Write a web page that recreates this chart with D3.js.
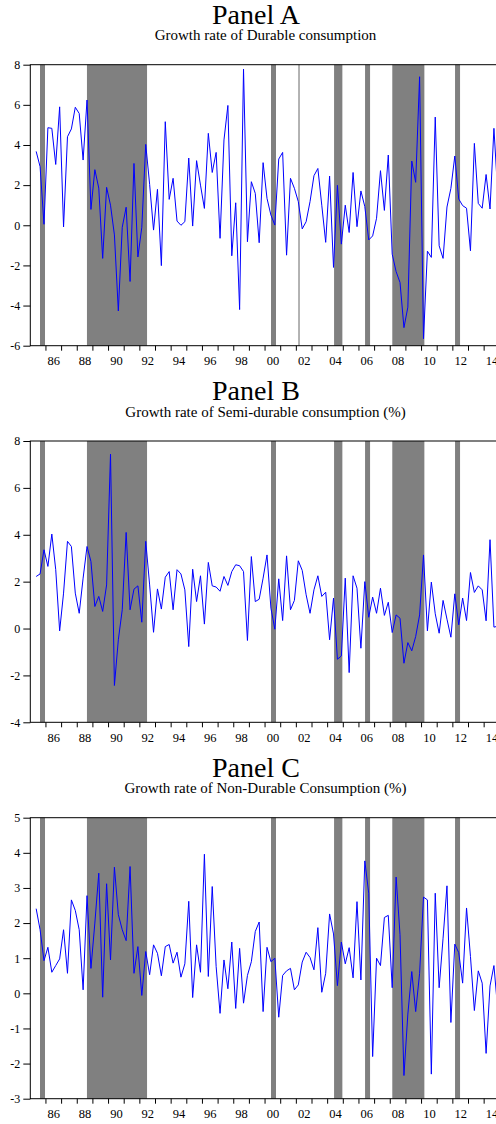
<!DOCTYPE html>
<html>
<head>
<meta charset="utf-8">
<script src="https://cdn.jsdelivr.net/npm/d3@7"></script>
<style>
  html, body { margin: 0; padding: 0; background: #fff; }
  svg { display: block; }
  text { font-family: "Liberation Serif", "DejaVu Serif", serif; fill: #000; }
</style>
</head>
<body>
<div id="chart"></div>
<script>
// Quarterly growth rates, first observation 1985Q2
const START_YEAR = 1985;
const START_QUARTER = 2;

const durable = [
  3.68, 2.92, 0.05,
  4.86, 4.83, 3.03, 5.9,
  -0.08, 4.41, 4.8, 5.88,
  5.57, 3.25, 6.24, 0.79,
  2.77, 1.85, -1.65, 1.89,
  1.0, -0.48, -4.27, -0.1,
  0.9, -2.8, 3.08, -1.58,
  -0.1, 4.03, 2.04, -0.24,
  1.79, -2.01, 5.16, 1.29,
  2.34, 0.21, 0.0, 0.18,
  3.35, -0.04, 3.22, 2.0,
  0.84, 4.58, 2.63, 3.63,
  -0.65, 4.25, 5.97, -1.52,
  1.12, -4.2, 7.78, -0.82,
  2.17, 1.59, -0.87, 3.12,
  1.34, 0.51, 0.01, 3.3,
  3.63, -1.49, 2.34, 1.84,
  1.18, -0.18, 0.18, 1.18,
  2.47, 2.83, 1.0, -0.85,
  2.45, -2.1, 1.99, -0.94,
  1.0, -0.36, 2.63, -0.07,
  1.71, 0.93, -0.73, -0.53,
  0.35, 2.72, 0.74, 3.5,
  -1.44, -2.31, -2.85, -5.1,
  -4.08, 3.2, 2.14, 7.4,
  -5.65, -1.29, -1.6, 5.39,
  -1.02, -1.65, 0.91, 1.84,
  3.45, 1.31, 0.98, 0.85,
  -1.27, 4.08, 1.09, 0.85,
  2.53, 0.81, 4.83, 1.5
];

const semiDurable = [
  2.22, 2.33, 3.36,
  2.65, 4.03, 2.51, -0.1,
  1.51, 3.72, 3.5, 1.51,
  0.65, 2.15, 3.5, 2.86,
  0.94, 1.37, 0.73, 1.86,
  7.44, -2.43, -0.48, 0.8,
  4.1, 0.8, 1.68, 1.82,
  0.27, 3.72, 1.86, -0.16,
  1.69, 0.83, 2.19, 2.43,
  0.8, 2.51, 2.33, 1.65,
  -0.77, 2.53, 1.15, 2.25,
  0.19, 2.82, 1.82, 1.77,
  1.59, 2.22, 1.84, 2.43,
  2.72, 2.68, 2.43, -0.51,
  3.07, 1.15, 1.25, 2.15,
  3.14, 0.87, -0.03, 2.12,
  0.34, 3.1, 0.8, 1.2,
  2.89, 2.48, 1.44, 0.65,
  1.65, 2.25, 1.37, 1.55,
  -0.48, 1.3, -1.31, -1.17,
  2.15, -1.88, 2.25, 1.72,
  -0.84, 2.0, 0.48, 1.34,
  0.65, 1.72, 0.56, 1.12,
  -0.17, 0.58, 0.44, -1.48,
  -0.6, -0.95, -0.34, 0.58,
  3.14, -0.1, 1.98, 0.63,
  -0.2, 1.2, 0.4, -0.37,
  1.48, 0.16, 1.3, 0.34,
  2.39, 1.54, 1.82, 1.65,
  0.33, 3.79, 0.06, 0.1
];

const nonDurable = [
  2.41, 1.81, 0.93,
  1.31, 0.6, 0.79, 0.98,
  1.81, 0.57, 2.66, 2.36,
  1.81, 0.1, 2.78, 0.71,
  2.0, 3.42, -0.11, 3.12,
  0.95, 3.59, 2.24, 1.81,
  1.5, 3.61, 0.57, 1.33,
  -0.06, 1.19, 0.53, 1.38,
  1.14, 0.5, 1.33, 1.39,
  0.86, 1.17, 0.46, 0.84,
  2.62, -0.12, 1.38, 0.6,
  3.96, 0.48, 3.04, 0.76,
  -0.57, 0.95, 0.13, 1.46,
  -0.43, 1.28, -0.28, 0.51,
  0.9, 1.76, 2.03, -0.52,
  1.31, 0.9, 1.0, -0.68,
  0.51, 0.64, 0.71, 0.1,
  0.24, 0.89, 1.17, 1.02,
  0.67, 1.87, 0.03, 0.57,
  2.26, 1.69, 0.22, 1.46,
  0.84, 1.3, 0.44, 2.61,
  0.38, 3.77, 2.85, -1.8,
  1.0, 0.79, 2.16, 2.22,
  0.16, 3.31, 1.67, -2.34,
  -0.59, 0.62, -0.52, 0.57,
  2.74, 2.66, -2.3, 2.85,
  0.16, 1.57, 3.06, -0.83,
  1.4, 1.16, 0.29, 2.43,
  1.05, -0.49, 0.64, 0.29,
  -1.71, 0.21, 0.79, -0.5
];

// shaded periods (fractional years)
const shadedPeriods = [
  [1985.62, 1985.94],
  [1988.62, 1992.46],
  [2000.38, 2000.70],
  [2004.41, 2004.94],
  [2006.39, 2006.71],
  [2008.13, 2010.18],
  [2012.14, 2012.46]
];
const panelAMarker = [2002.17]; // thin line only in panel A

const yearLabels = ["86", "88", "90", "92", "94", "96", "98", "00", "02", "04", "06", "08", "10", "12", "14"];
const labelYears = d3.range(1986, 2015, 2);
const tickYears = d3.range(1986, 2015);

const panels = [
  { title: "Panel A", subtitle: "Growth rate of Durable consumption",
    values: durable, yDomain: [-6, 8], yTicks: [-6, -4, -2, 0, 2, 4, 6, 8],
    top: 64.7, bottom: 345.7, markers: panelAMarker },
  { title: "Panel B", subtitle: "Growth rate of Semi-durable consumption (%)",
    values: semiDurable, yDomain: [-4, 8], yTicks: [-4, -2, 0, 2, 4, 6, 8],
    top: 441, bottom: 722.3, markers: [] },
  { title: "Panel C", subtitle: "Growth rate of Non-Durable Consumption (%)",
    values: nonDurable, yDomain: [-3, 5], yTicks: [-3, -2, -1, 0, 1, 2, 3, 4, 5],
    top: 817.7, bottom: 1098.7, markers: [] }
];

const W = 496, H = 1124;
const svg = d3.select("#chart").append("svg")
  .attr("width", W).attr("height", H);

const x = d3.scaleLinear().domain([1985, 2015]).range([30.3, 499.8]);

function quarterTime(i) {
  const q = START_QUARTER - 1 + i;
  return START_YEAR + Math.floor(q / 4) + ((q % 4) + 0.5) / 4;
}

panels.forEach(p => {
  const y = d3.scaleLinear().domain(p.yDomain).range([p.bottom, p.top]);
  const g = svg.append("g");

  // titles
  g.append("text")
    .attr("x", 256).attr("y", p.top - 40.7)
    .attr("text-anchor", "middle")
    .attr("font-size", "28px")
    .text(p.title);
  g.append("text")
    .attr("x", 265.5).attr("y", p.top - 24.3)
    .attr("text-anchor", "middle")
    .attr("font-size", "15px")
    .text(p.subtitle);

  // shading
  g.selectAll(".shade").data(shadedPeriods)
    .join("rect")
    .attr("class", "shade")
    .attr("x", d => x(d[0]))
    .attr("y", p.top)
    .attr("width", d => x(d[1]) - x(d[0]))
    .attr("height", p.bottom - p.top)
    .attr("fill", "#808080");

  g.selectAll(".marker").data(p.markers)
    .join("line")
    .attr("class", "marker")
    .attr("x1", d => x(d)).attr("x2", d => x(d))
    .attr("y1", p.top).attr("y2", p.bottom)
    .attr("stroke", "#808080")
    .attr("stroke-width", 1.2);

  // series
  const line = d3.line()
    .x((d, i) => x(quarterTime(i)))
    .y(d => y(d));
  g.append("path")
    .datum(p.values)
    .attr("d", line)
    .attr("fill", "none")
    .attr("stroke", "#0000ff")
    .attr("stroke-width", 1)
    .attr("stroke-linejoin", "miter");

  // frame
  g.append("rect")
    .attr("x", x(1985)).attr("y", p.top)
    .attr("width", x(2015) - x(1985))
    .attr("height", p.bottom - p.top)
    .attr("fill", "none")
    .attr("stroke", "#000")
    .attr("stroke-width", 1);

  // y axis
  const yAxis = d3.axisLeft(y)
    .tickValues(p.yTicks)
    .tickSize(7)
    .tickPadding(3)
    .tickFormat(d => String(d));
  const ya = g.append("g")
    .attr("transform", `translate(${x(1985)},0)`)
    .call(yAxis);
  ya.select(".domain").remove();
  ya.selectAll("text")
    .attr("font-family", "Liberation Serif")
    .attr("font-size", "12px")
    .attr("fill", "#000");
  ya.selectAll("line").attr("stroke", "#000");

  // x axis: yearly ticks, labels centred on every second year
  const xa = g.append("g").attr("transform", `translate(0,${p.bottom})`);
  xa.selectAll(".xt").data(tickYears)
    .join("line")
    .attr("class", "xt")
    .attr("x1", d => x(d)).attr("x2", d => x(d))
    .attr("y1", 0).attr("y2", 5)
    .attr("stroke", "#000");
  xa.selectAll(".xl").data(labelYears)
    .join("text")
    .attr("class", "xl")
    .attr("x", d => x(d + 0.5))
    .attr("y", 19.5)
    .attr("text-anchor", "middle")
    .attr("font-size", "12.5px")
    .text((d, i) => yearLabels[i]);
});
</script>
</body>
</html>
